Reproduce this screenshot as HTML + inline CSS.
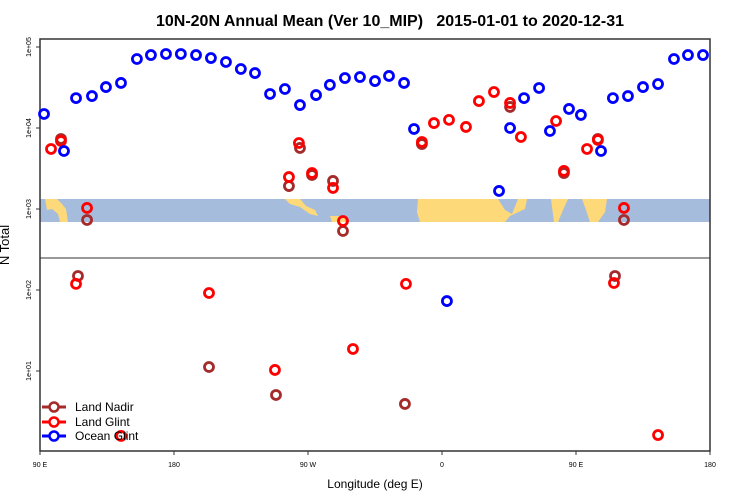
<!DOCTYPE html>
<html><head><meta charset="utf-8"><style>
body{margin:0;background:#fff;}
svg{display:block;font-family:"Liberation Sans",sans-serif;}
</style></head><body>
<svg id="chart" width="750" height="500" viewBox="0 0 750 500">
<text x="390" y="26" text-anchor="middle" font-size="16" font-weight="bold" style="white-space:pre">10N-20N Annual Mean (Ver 10_MIP)   2015-01-01 to 2020-12-31</text>
<g id="map">
<rect x="40" y="199" width="670" height="23" fill="#a6bcdc"/>
<polygon points="45,199 57,199 62,204 66,209 68,222 60,222 58,214 52,209 47,210" fill="#fed97a"/>
<polygon points="285,199 300,199 306,206 315,210 318,216 310,214 300,207 290,204" fill="#fed97a"/>
<polygon points="330,216 345,216 345,222 332,222" fill="#fed97a"/>
<polygon points="418,199 498,199 505,210 512,214 518,199 527,199 525,209 510,216 505,222 420,222 417,212" fill="#fed97a"/>
<polygon points="551,199 568,199 563,210 558,222 554,222" fill="#fed97a"/>
<polygon points="582,199 607,199 605,212 598,222 590,222 586,210" fill="#fed97a"/>
</g>
<line x1="40" y1="258" x2="710" y2="258" stroke="#333" stroke-width="1"/>
<rect x="40" y="39" width="670" height="412" fill="none" stroke="#333" stroke-width="1.5"/>
<g id="axes"></g>
<g id="marks"></g>
<text transform="translate(9,245) rotate(-90)" text-anchor="middle" font-size="13">N Total</text>
<text x="375" y="488" text-anchor="middle" font-size="12">Longitude (deg E)</text>
<g>
<g><line x1="42" y1="407" x2="66" y2="407" stroke="#a52a2a" stroke-width="3"/><circle cx="54" cy="407" r="4.5" fill="#fff" stroke="#a52a2a" stroke-width="2.5"/><text x="75" y="411" font-size="12">Land Nadir</text></g>
<g><line x1="42" y1="422" x2="66" y2="422" stroke="#f00" stroke-width="3"/><circle cx="54" cy="422" r="4.5" fill="#fff" stroke="#f00" stroke-width="2.5"/><text x="75" y="426" font-size="12">Land Glint</text></g>
<g><line x1="42" y1="436" x2="66" y2="436" stroke="#00f" stroke-width="3"/><circle cx="54" cy="436" r="4.5" fill="#fff" stroke="#00f" stroke-width="2.5"/><text x="75" y="440" font-size="12">Ocean Glint</text></g>
</g>
</svg>
<script>
const xTickLabels=["90 E","180","90 W","0","90 E","180"];
const xTickLons=[90,180,270,360,450,540];
const yTickLabels=["1e+05","1e+04","1e+03","1e+02","1e+01"];
const yTickValues=[100000,10000,1000,100,10];
const oceanLon=[92.7,106.1,114.2,124.9,134.3,144.4,155.1,164.5,174.6,184.6,194.8,204.8,214.9,224.9,234.4,244.5,254.5,264.6,275.4,284.7,294.8,304.9,315.0,324.4,334.5,341.2,363.3,398.3,405.7,415.1,425.2,432.5,445.3,453.3,466.8,474.8,484.9,495.0,505.1,515.8,525.2,535.3];
const oceanVal=[14900,5200,23400,24800,32000,36000,71100,79600,82000,82000,79600,73100,65300,53500,47700,26300,30300,19200,25500,34000,41400,42600,38000,43900,36000,9730,73,1670,10000,23400,31200,9180,17200,14500,5200,23400,24800,32000,34900,71100,79600,79600];
const glintLon=[97.4,104.1,121.6,114.2,144.4,203.5,257.2,263.9,272.7,286.8,293.5,300.2,247.8,335.8,346.5,354.6,364.7,376.1,384.8,394.9,405.7,413.0,436.6,441.9,457.4,464.7,475.5,482.2,505.1];
const glintVal=[5510,6920,1030,119,1.58,91.8,2480,6530,2780,1820,711,18.7,10.3,119,6720,11500,12600,10300,21500,27800,20400,7740,12200,2950,5510,7110,122,1030,1.62];
const nadirLon=[104.1,121.6,115.5,203.5,257.2,264.6,272.7,286.8,293.5,248.5,335.1,346.5,405.7,441.9,464.7,476.2,482.2];
const nadirVal=[7320,732,149,11.2,1920,5670,2630,2220,535,5.06,3.92,6340,18200,2780,7320,149,732];

const NS="http://www.w3.org/2000/svg";
function xs(l){return 40+(l-90)*670/450;}
function ys(v){return 47+(5-Math.log10(v))*81;}
const axes=document.getElementById('axes');
const marks=document.getElementById('marks');
function mk(tag,attrs,parent){const e=document.createElementNS(NS,tag);for(const k in attrs)e.setAttribute(k,attrs[k]);parent.appendChild(e);return e;}
xTickLons.forEach((l,i)=>{
  const t=mk('line',{x1:xs(l),x2:xs(l),y1:451,y2:455,stroke:'#333'},axes);
  
  
  const tx=mk('text',{x:xs(l),y:467,'text-anchor':'middle','font-size':'7'},axes);
  
  
  tx.textContent=xTickLabels[i];
});
yTickValues.forEach((v,i)=>{
  const t=mk('line',{x1:36,x2:40,y1:ys(v),y2:ys(v),stroke:'#333'},axes);
  
  
  const tx=mk('text',{transform:'translate(31,'+ys(v)+') rotate(-90)','text-anchor':'middle','font-size':'7'},axes);
  
  
  tx.textContent=yTickLabels[i];
});
function series(lons,vals,color,name){
  lons.forEach((l,i)=>{
    const c=mk('circle',{cx:xs(l),cy:ys(vals[i]),r:4.5,fill:'none',stroke:color,'stroke-width':2.8},marks);
    
    
  });
}
series(nadirLon,nadirVal,'#a52a2a','land-nadir-point');
series(glintLon,glintVal,'#ff0000','land-glint-point');
series(oceanLon,oceanVal,'#0000ff','ocean-glint-point');
</script>
</body></html>
